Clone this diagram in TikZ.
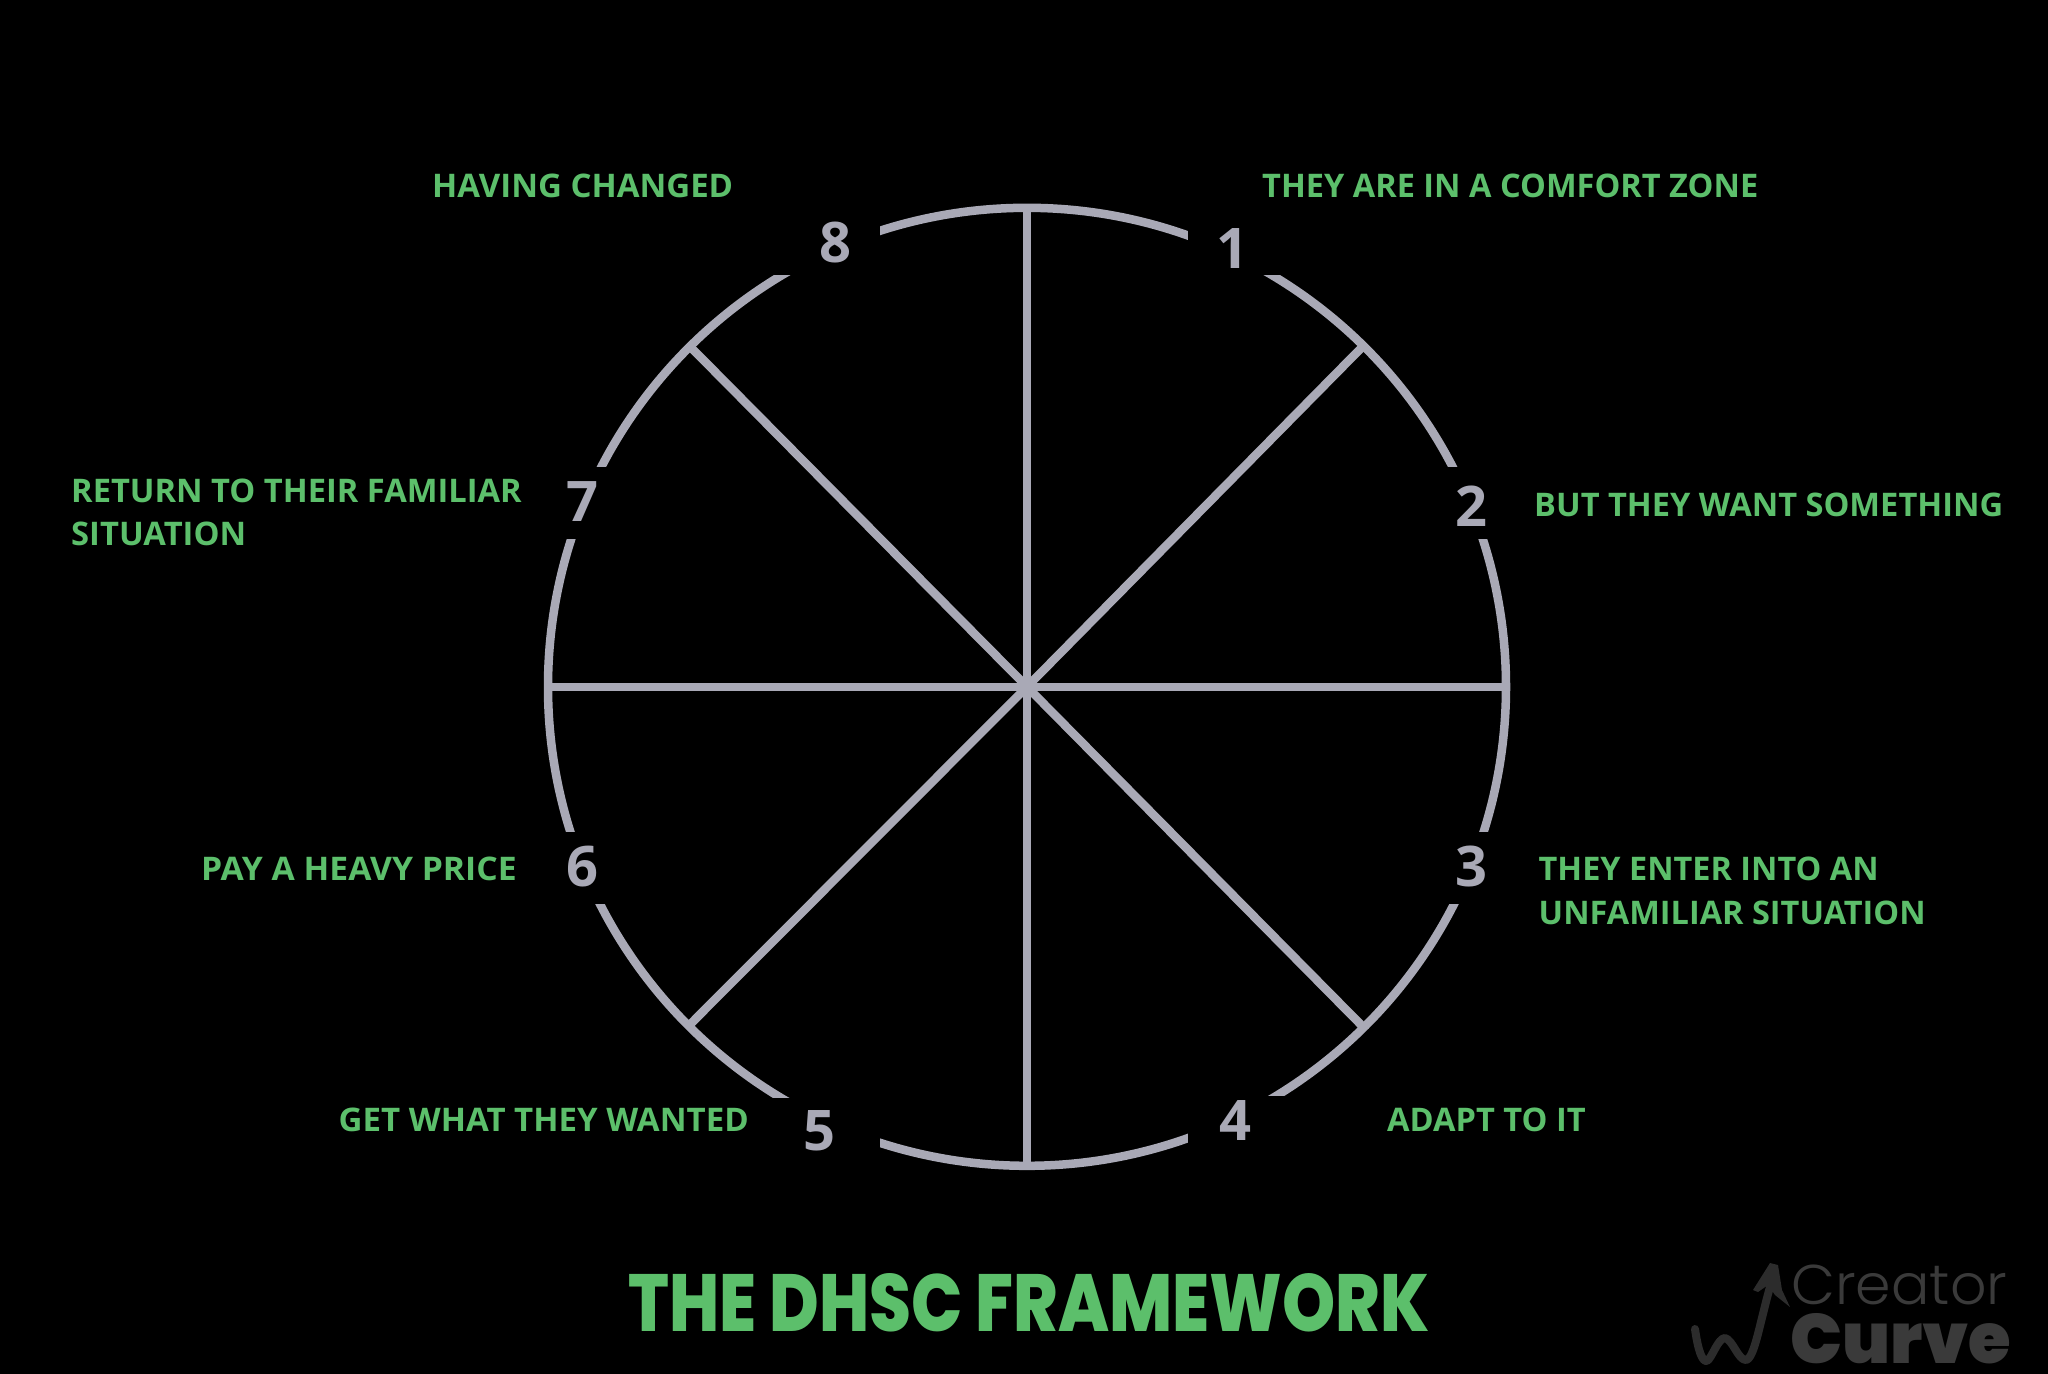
\documentclass[tikz,border=0pt]{standalone}
\usepackage{fontspec}
\usepackage{graphicx}
\setmainfont{Open Sans}
\newfontfamily\labfont{Open Sans}[UprightFont=* Bold]
\newfontfamily\titlefont{Poppins}[UprightFont=* ExtraBold]
\newfontfamily\lightfont{Poppins}[UprightFont=* Light]
\newfontfamily\blackfont{Poppins}[UprightFont=* Black]
\definecolor{wheel}{HTML}{A9A9B6}
\definecolor{labgreen}{HTML}{5CBF6B}
\definecolor{markgrey}{HTML}{3A3A3A}
\definecolor{markdark}{HTML}{2C2C2C}
\newcommand{\fitw}[2]{\resizebox{#1pt}{\height}{#2}}
\tikzset{
  wheelline/.style={draw=wheel,line width=8.5pt},
  spoke/.style={draw=wheel,line width=8.5pt},
  gapmask/.style={fill=black},
  num/.style={anchor=base,inner sep=0pt,text=wheel,font=\labfont\fontsize{56}{56}\selectfont},
  lab/.style={anchor=base west,inner sep=0pt,text=labgreen,font=\labfont\fontsize{32.5}{33}\selectfont},
}
\begin{document}
\begin{tikzpicture}[x=1pt,y=-1pt]
\useasboundingbox (0,0) rectangle (2048,1373.6);
\fill[black] (-2,-2) rectangle (2050,1378);
% wheel
\coordinate (c) at (1027,686.8);
\coordinate (re) at (1506,686.8);
\coordinate (rw) at (548.2,686.8);
\coordinate (rn) at (1027,208);
\coordinate (rs) at (1027,1165.5);
\coordinate (rne) at (1363.2,346);
\coordinate (rnw) at (689.5,346);
\coordinate (rse) at (1363.2,1027);
\coordinate (rsw) at (688.5,1026);
\draw[wheelline] (c) circle [radius=479pt];
\foreach \e in {re,rw,rn,rs,rne,rnw,rse,rsw}{ \draw[spoke] (c) -- (\e); }
% gaps in the rim for the numbers
\fill[gapmask] (770,190) rectangle (880,275);
\fill[gapmask] (1188,190) rectangle (1290,275);
\fill[gapmask] (1440,467) rectangle (1520,539);
\fill[gapmask] (1440,832) rectangle (1520,904);
\fill[gapmask] (1188,1096) rectangle (1290,1180);
\fill[gapmask] (770,1098) rectangle (880,1180);
\fill[gapmask] (530,832) rectangle (610,904);
\fill[gapmask] (530,467) rectangle (610,539);
% numbers
\node[num] (n1) at (1232.5,268) {1};
\node[num] (n2) at (1471,526) {2};
\node[num] (n3) at (1471,886.5) {3};
\node[num] (n4) at (1235,1140.5) {4};
\node[num] (n5) at (819.5,1150.5) {5};
\node[num] (n6) at (582.5,886.5) {6};
\node[num] (n7) at (582.5,521.5) {7};
\node[num] (n8) at (835.5,262) {8};
% labels
\node[lab] (l1) at (1262,197.2) {\fitw{496}{THEY ARE IN A COMFORT ZONE}};
\node[lab] (l2) at (1534,516.5) {\fitw{469}{BUT THEY WANT SOMETHING}};
\node[lab] (l3a) at (1538.5,880.6) {\fitw{340}{THEY ENTER INTO AN}};
\node[lab] (l3b) at (1538.5,924.3) {\fitw{387}{UNFAMILIAR SITUATION}};
\node[lab] (l4) at (1387,1131.3) {\fitw{198.5}{ADAPT TO IT}};
\node[lab] (l5) at (338.5,1131.3) {\fitw{410}{GET WHAT THEY WANTED}};
\node[lab] (l6) at (201,880.6) {\fitw{315.5}{PAY A HEAVY PRICE}};
\node[lab] (l7a) at (71,502.5) {\fitw{450.5}{RETURN TO THEIR FAMILIAR}};
\node[lab] (l7b) at (71,545.8) {\fitw{175}{SITUATION}};
\node[lab] (l8) at (432,197.2) {\fitw{301}{HAVING CHANGED}};
% title
\node[anchor=base west,inner sep=0pt,text=labgreen,font=\titlefont\fontsize{81}{81}\selectfont] (title) at (628,1331) {\fitw{801}{THE DHSC FRAMEWORK}};
% watermark
\node[anchor=base west,inner sep=0pt,text=markgrey,font=\lightfont\fontsize{56}{56}\selectfont] (creator) at (1791,1304) {\fitw{216}{Creator}};
\node[anchor=base west,inner sep=0pt,text=markgrey,font=\blackfont\fontsize{70}{70}\selectfont] (curve) at (1790,1363) {\fitw{221}{Curve}};
\draw[markdark,line width=8pt,line join=round,line cap=round]
  (1695,1329) .. controls (1698,1350) and (1702,1362) .. (1707,1361)
  .. controls (1712,1358) and (1718,1338) .. (1725,1338)
  .. controls (1733,1340) and (1738,1360) .. (1746,1360)
  .. controls (1755,1358) and (1760,1320) .. (1772,1280);
\fill[markdark] (1753,1290) -- (1770,1263) -- (1778,1265) -- (1782,1290) -- (1790,1307) -- (1775,1295) -- (1768,1285) -- (1758,1292) -- cycle;
\end{tikzpicture}
\end{document}
